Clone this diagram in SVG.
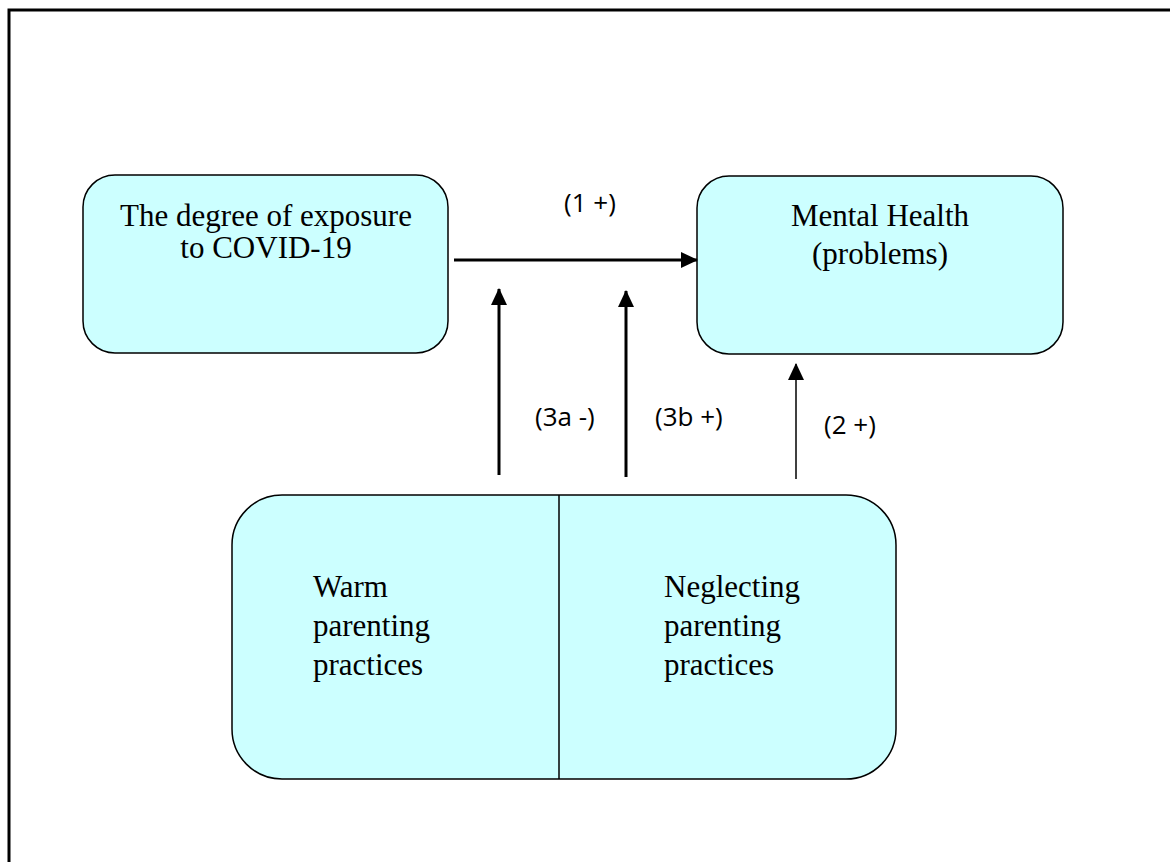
<svg xmlns="http://www.w3.org/2000/svg" width="1170" height="862" viewBox="0 0 1170 862">
<style>
.box{fill:#CCFFFF;stroke:#000;stroke-width:1.5}
.t{font-family:"Liberation Serif","Times New Roman",serif;font-size:31px;fill:#000}
.lbl{font-family:"Open Sans","Liberation Sans",sans-serif;font-size:26px;fill:#000}
.c{stroke:#000;fill:none}
</style>
<defs>
<marker id="ah" markerUnits="userSpaceOnUse" markerWidth="17" markerHeight="16" refX="16" refY="8" orient="auto">
<path d="M0,0 L17,8 L0,16 Z" fill="#000"/>
</marker>
</defs>
<rect x="0" y="0" width="1170" height="862" fill="#fff"/>
<rect x="9" y="10" width="1175" height="870" fill="none" stroke="#000" stroke-width="3"/>
<g id="exposure">
<rect class="box" x="83" y="175" width="365" height="178" rx="32"/>
<text class="t" x="266" y="226" text-anchor="middle" font-size="31.5">The degree of exposure</text>
<text class="t" x="266" y="258" text-anchor="middle" font-size="31.5">to COVID-19</text>
</g>
<g id="mental-health">
<rect class="box" x="697" y="176" width="366" height="178" rx="32"/>
<text class="t" x="880" y="226" text-anchor="middle" font-size="31.5">Mental Health</text>
<text class="t" x="880" y="264" text-anchor="middle" font-size="31.5">(problems)</text>
</g>
<g id="parenting">
<rect class="box" x="232" y="495" width="664" height="284" rx="50"/>
<line x1="559" y1="495" x2="559" y2="779" stroke="#000" stroke-width="1.5"/>
<text class="t" x="313" y="597">Warm</text>
<text class="t" x="313" y="636">parenting</text>
<text class="t" x="313" y="675">practices</text>
<text class="t" x="664" y="597">Neglecting</text>
<text class="t" x="664" y="636">parenting</text>
<text class="t" x="664" y="675">practices</text>
</g>
<g id="connectors">
<line class="c" x1="454" y1="260" x2="697" y2="260" stroke-width="3" marker-end="url(#ah)"/>
<line class="c" x1="499" y1="475" x2="499" y2="289" stroke-width="3" marker-end="url(#ah)"/>
<line class="c" x1="626" y1="477" x2="626" y2="291" stroke-width="3" marker-end="url(#ah)"/>
<line class="c" x1="796" y1="479" x2="796" y2="364" stroke-width="1.5" marker-end="url(#ah)"/>
<text class="lbl" x="590" y="212" text-anchor="middle">(1 +)</text>
<text class="lbl" x="535" y="426">(3a -)</text>
<text class="lbl" x="655" y="426">(3b +)</text>
<text class="lbl" x="824" y="434">(2 +)</text>
</g>
</svg>
